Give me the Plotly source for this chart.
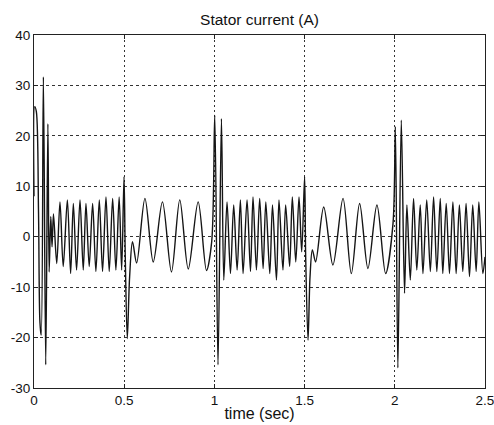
import plotly.graph_objects as go

# Extrema (time in s, current in A), per segment
seg1_t = [0.000, 0.004, 0.013, 0.025, 0.033, 0.040, 0.052, 0.065, 0.077, 0.084, 0.093, 0.100, 0.108,
          0.126, 0.144, 0.162, 0.185, 0.203, 0.218, 0.236, 0.255, 0.273, 0.288, 0.306, 0.325,
          0.343, 0.362, 0.380, 0.399, 0.417, 0.436, 0.454, 0.472, 0.486]
seg1_i = [8.0, 25.8, 24.8, 5.0, -17.0, -19.5, 31.7, -25.4, 22.4, -7.0, 4.0, -2.0, 4.5,
          -5.3, 6.9, -5.9, 7.3, -7.3, 6.6, -6.6, 7.3, -6.6, 6.6, -5.9, 6.6,
          -6.9, 7.3, -6.9, 7.9, -6.9, 7.6, -6.6, 7.9, -6.6]

seg2_t = [0.499, 0.506, 0.517, 0.530, 0.546, 0.569, 0.615, 0.661, 0.712, 0.762, 0.808,
          0.855, 0.910, 0.956, 0.985]
seg2_i = [11.9, -4.0, -20.2, -8.0, -1.0, -5.2, 7.6, -5.0, 6.9, -7.0, 7.3,
          -6.4, 6.9, -6.7, -1.0]

seg3_t = [1.002, 1.020, 1.039, 1.052, 1.070, 1.089, 1.107, 1.126, 1.144, 1.159, 1.181, 1.200,
          1.214, 1.233, 1.251, 1.270, 1.285, 1.307, 1.322, 1.344, 1.358, 1.380, 1.395,
          1.417, 1.432, 1.451, 1.469, 1.484]
seg3_i = [24.1, -25.4, 23.4, -8.6, 6.9, -7.3, 6.3, -6.6, 7.3, -7.3, 7.3, -6.9,
          7.9, -6.6, 7.6, -6.3, 6.9, -7.3, 6.3, -8.6, 7.3, -6.6, 6.3,
          -5.9, 7.9, -5.0, 7.9, -3.0]

seg4_t = [1.500, 1.506, 1.519, 1.530, 1.543, 1.561, 1.606, 1.657, 1.713, 1.759, 1.805,
          1.851, 1.901, 1.949, 1.990]
seg4_i = [11.9, -4.0, -20.5, -8.0, -2.6, -5.0, 5.9, -5.6, 7.6, -7.3, 6.6,
          -6.3, 6.3, -7.3, 2.6]

seg5_t = [2.003, 2.017, 2.036, 2.054, 2.067, 2.086, 2.104, 2.122, 2.141, 2.156, 2.177, 2.197,
          2.215, 2.233, 2.252, 2.266, 2.285, 2.303, 2.322, 2.340, 2.358, 2.377, 2.395,
          2.414, 2.432, 2.451, 2.466, 2.488, 2.500]
seg5_i = [21.8, -26.0, 23.1, -11.2, 6.3, -8.6, 7.6, -6.6, 6.3, -7.3, 7.3, -6.9,
          7.9, -6.9, 7.6, -7.3, 6.6, -7.3, 6.9, -7.3, 6.3, -6.9, 6.6,
          -7.9, 6.3, -6.9, 6.9, -7.3, -4.0]

x_ticks = [0, 0.5, 1, 1.5, 2, 2.5]
x_tick_labels = ["0", "0.5", "1", "1.5", "2", "2.5"]
y_ticks = [-30, -20, -10, 0, 10, 20, 30, 40]
y_tick_labels = ["-30", "-20", "-10", "0", "10", "20", "30", "40"]

t = seg1_t + seg2_t + seg3_t + seg4_t + seg5_t
i_a = seg1_i + seg2_i + seg3_i + seg4_i + seg5_i

FONT = "Liberation Sans, Arial, sans-serif"

fig = go.Figure()
fig.add_trace(go.Scatter(
    x=t, y=i_a, mode="lines",
    line=dict(color="#151515", width=1.4, shape="spline", smoothing=0.9),
    hoverinfo="skip", showlegend=False,
))

fig.update_layout(
    width=494, height=425,
    margin=dict(l=34, r=9, t=35, b=37),
    paper_bgcolor="white", plot_bgcolor="white",
    font=dict(family=FONT, size=13, color="#111"),
    title=dict(text="Stator current (A)", x=0.5,
               xanchor="center", xref="paper",
               y=1 - 20 / 425, yanchor="middle",
               font=dict(family=FONT, size=15.5, color="#111")),
)
fig.update_xaxes(
    range=[0, 2.5], tickvals=x_ticks, ticktext=x_tick_labels,
    showline=True, mirror="ticks", linecolor="#222", linewidth=1,
    ticks="inside", ticklen=4, tickcolor="#222",
    showgrid=True, gridcolor="#333", gridwidth=1, griddash="2px,3px",
    zeroline=False, automargin=False, ticklabeloverflow="allow",
    tickfont=dict(family=FONT, size=13.5, color="#111"),
    title=dict(text="time (sec)", standoff=0,
               font=dict(family=FONT, size=16, color="#111")),
)
fig.update_yaxes(
    range=[-30, 40], tickvals=y_ticks, ticktext=y_tick_labels,
    showline=True, mirror="ticks", linecolor="#222", linewidth=1,
    ticks="inside", ticklen=4, tickcolor="#222",
    showgrid=True, gridcolor="#333", gridwidth=1, griddash="3px,3px",
    zeroline=False, automargin=False, ticklabeloverflow="allow",
    tickfont=dict(family=FONT, size=13.5, color="#111"),
)

# remove the default page margin so the 494x425 figure fills the window exactly
fig.write_html("out.html", config={"displayModeBar": False},
               post_script="document.body.style.margin='0';")
